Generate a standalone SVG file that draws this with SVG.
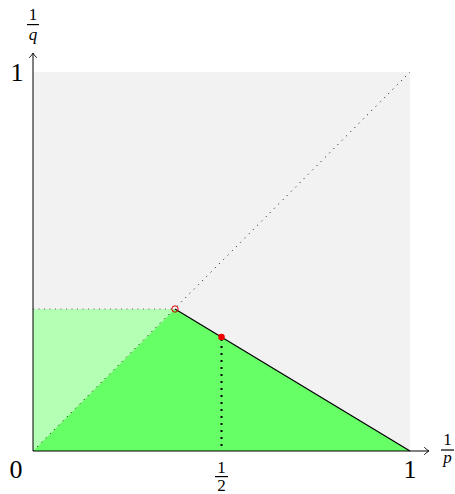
<svg xmlns="http://www.w3.org/2000/svg" width="455" height="494" viewBox="0 0 455 494">
<style>
.ax{stroke:#000;stroke-width:1;fill:none}
.tip{stroke:#000;stroke-width:0.9;fill:none;stroke-linecap:round}
.lbl{font-family:"Liberation Serif","DejaVu Serif",serif;fill:#000;text-anchor:middle}
.big{font-size:26px}
.sm{font-size:17px}
.it{font-style:italic}
.bar{stroke:#000;stroke-width:1.2}
</style>
<g id="background">
<rect x="33" y="72" width="377" height="379" fill="#f2f2f2"/>
</g>
<g id="regions">
<polygon id="region-light" points="33,451 33,309 175,309" fill="#b3ffb3"/>
<polygon id="region-green" points="33,451 175,309 410,451" fill="#66ff66"/>
</g>
<g id="connectors">
<line x1="33" y1="451" x2="410" y2="72" stroke="#000" stroke-width="1" stroke-dasharray="1 5"/>
<line x1="33" y1="309" x2="175" y2="309" stroke="#805070" stroke-width="1" stroke-dasharray="1 4.5"/>
<line x1="175" y1="309" x2="410" y2="451" stroke="#000" stroke-width="1.2"/>
<line x1="221.5" y1="339" x2="221.5" y2="451" stroke="#000" stroke-width="2" stroke-dasharray="2 5"/>
</g>
<g id="axes">
<line class="ax" x1="33" y1="451" x2="428.5" y2="451"/>
<line class="ax" x1="33" y1="451" x2="33" y2="53.5"/>
<path class="tip" d="M424.5,447.5 Q427,450 429,451 Q427,452 424.5,454.5"/>
<path class="tip" d="M29.5,57.5 Q32,55 33,53 Q34,55 36.5,57.5"/>
</g>
<g id="points">
<circle id="open-point" cx="175" cy="309" r="3.2" fill="none" stroke="#e00000" stroke-width="1"/>
<circle id="filled-point" cx="221.5" cy="337" r="3.3" fill="#ee0000"/>
</g>
<g id="labels">
<text class="lbl big" x="16" y="478">0</text>
<text class="lbl big" x="17" y="81">1</text>
<text class="lbl big" x="410" y="478">1</text>
<g id="label-half">
<text class="lbl sm" x="221.5" y="473">1</text>
<line class="bar" x1="215" y1="476.6" x2="228" y2="476.6"/>
<text class="lbl sm" x="221.5" y="491">2</text>
</g>
<g id="label-1p">
<text class="lbl sm" x="447.5" y="444.5">1</text>
<line class="bar" x1="441" y1="450" x2="454" y2="450"/>
<text class="lbl sm it" x="447.5" y="463">p</text>
</g>
<g id="label-1q">
<text class="lbl sm" x="33" y="20">1</text>
<line class="bar" x1="27" y1="24.6" x2="39" y2="24.6"/>
<text class="lbl sm it" x="33" y="40">q</text>
</g>
</g>
</svg>
